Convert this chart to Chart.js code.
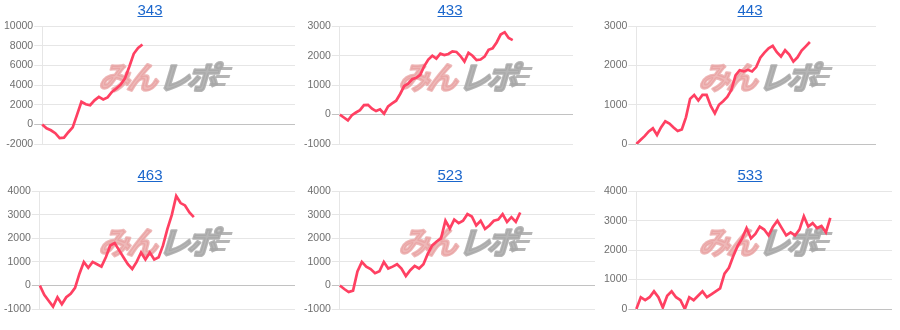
<!DOCTYPE html>
<html>
<head>
<meta charset="utf-8">
<script src="https://cdn.jsdelivr.net/npm/chart.js@4"></script>
<style>
    body { margin: 0; background: #fff; font-family: "Liberation Sans", Arial, sans-serif; }
    #grid { display: grid; grid-template-columns: 300px 300px 300px; width: 900px; }
    .cell { width: 300px; height: 165px; position: relative; }
    .title { position: absolute; top: 0; left: 0; width: 300px; height: 20px; line-height: 20px;
             text-align: center; font-size: 15px; z-index: 1; }
    .title a { color: #1a66cc; text-decoration: underline; }
    .canvas-box { position: absolute; top: 19px; left: 0; width: 300px; height: 140px; }
</style>
</head>
<body>
<div id="grid"></div>
<script>
// Machine numbers (chart titles)
const TITLES = ['343', '433', '443', '463', '523', '533'];

// Hidden x axis: one slot per sample (same length for every chart)
const X_SLOTS = Array.from({ length: 59 }, (_, i) => i);

// Series values
const DATA_343 = [0, -400, -600, -900, -1400, -1350, -800, -300, 1000, 2300, 2050, 1950,
    2450, 2800, 2550, 2750, 3300, 3650, 4050, 4700, 5900, 7200, 7800, 8150];
const DATA_433 = [0, -100, -200, -20, 70, 150, 320, 330, 200, 120, 180, 30, 280, 380, 470,
    700, 970, 1050, 1200, 1250, 1350, 1650, 1870, 2000, 1900, 2070, 2020, 2060, 2150, 2130,
    1990, 1800, 2100, 2000, 1850, 1870, 1970, 2200, 2250, 2450, 2720, 2800, 2600, 2530];
const DATA_443 = [0, 100, 200, 320, 400, 230, 430, 580, 520, 420, 330, 370, 680, 1150, 1250,
    1110, 1250, 1250, 970, 780, 1000, 1090, 1200, 1380, 1750, 1880, 1850, 1890, 1850, 1960,
    2200, 2330, 2440, 2500, 2340, 2230, 2390, 2280, 2100, 2210, 2380, 2490, 2600];
const DATA_463 = [0, -400, -650, -900, -500, -800, -500, -350, -100, 500, 1000, 750, 1000,
    900, 800, 1200, 1700, 1800, 1500, 1200, 900, 700, 1000, 1400, 1100, 1400, 1100, 1200,
    1700, 2400, 3000, 3800, 3500, 3400, 3100, 2900];
const DATA_523 = [0, -150, -280, -220, 600, 1000, 800, 700, 520, 600, 1000, 720, 800, 900,
    720, 400, 650, 830, 720, 900, 1350, 1700, 1870, 2000, 2750, 2420, 2800, 2650, 2750, 3030,
    2930, 2550, 2750, 2400, 2550, 2750, 2800, 3030, 2700, 2900, 2700, 3100];
const DATA_533 = [0, 400, 300, 400, 600, 400, 50, 450, 600, 400, 300, 0, 400, 300, 450, 600,
    400, 500, 600, 700, 1200, 1400, 1800, 2150, 2400, 2750, 2400, 2550, 2800, 2700, 2500,
    2800, 3000, 2750, 2500, 2600, 2500, 2700, 3150, 2800, 2920, 2750, 2820, 2600, 3100];

// Y axis ranges [min, max, step]
const Y_343 = [-2000, 10000, 2000];
const Y_433 = [-1000, 3000, 1000];
const Y_443 = [0, 3000, 1000];
const Y_463 = [-1000, 4000, 1000];
const Y_523 = [-1000, 4000, 1000];
const Y_533 = [0, 4000, 1000];

const SERIES = [DATA_343, DATA_433, DATA_443, DATA_463, DATA_523, DATA_533];
const RANGES = [Y_343, Y_433, Y_443, Y_463, Y_523, Y_533];
// Right-hand padding of each plot (the source charts are not all equally wide)
const PAD_RIGHT = [5, 27, 24, 5, 5, 8];

const LINE_COLOR = '#ff4062';
const CANVAS_TOP = 19;

// Draw text a bit heavier than the font's bold
function heavyText(ctx, text, x, y, color) {
    ctx.fillStyle = color;
    ctx.strokeStyle = color;
    ctx.lineWidth = 2.5;
    ctx.lineJoin = 'round';
    ctx.strokeText(text, x, y);
    ctx.fillText(text, x, y);
}

// "みんレポ" watermark behind the line (fixed spot in each cell)
const watermark = {
    id: 'watermark',
    beforeDatasetsDraw(chart) {
        const ctx = chart.ctx;
        ctx.save();
        ctx.translate(166, 76 - CANVAS_TOP);
        ctx.transform(1, 0, -0.3, 1, 0, 0);
        ctx.font = 'bold 31px "Noto Sans CJK JP"';
        ctx.textBaseline = 'middle';
        ctx.textAlign = 'left';
        const left = -64;
        ctx.letterSpacing = '-3px';
        heavyText(ctx, 'みん', left, 1, 'rgba(232, 160, 160, 0.75)');
        const w = ctx.measureText('みん').width;
        heavyText(ctx, 'レポ', left + w + 4, 1, 'rgba(168, 168, 168, 0.85)');
        // speed lines
        ctx.fillStyle = 'rgba(168, 168, 168, 0.85)';
        ctx.fillRect(left + w + 60, -9, 12, 3);
        ctx.fillRect(left + w + 58, -1, 14, 3);
        ctx.fillRect(left + w + 54, 7, 16, 3);
        ctx.restore();
    }
};

function createChart(index) {
    const cell = document.createElement('div');
    cell.className = 'cell';
    cell.innerHTML = `
        <div class="canvas-box"><canvas id="chart-${index}"></canvas></div>
        <div class="title"><a href="#">${TITLES[index]}</a></div>
    `;
    document.getElementById('grid').appendChild(cell);

    const [min, max, step] = RANGES[index];
    const ctx = document.getElementById(`chart-${index}`).getContext('2d');
    new Chart(ctx, {
        type: 'line',
        data: {
            labels: X_SLOTS,
            datasets: [{
                data: SERIES[index],
                borderColor: LINE_COLOR,
                borderWidth: 2.7,
                pointRadius: 0,
                tension: 0,
                fill: false
            }]
        },
        options: {
            responsive: true,
            maintainAspectRatio: false,
            animation: false,
            layout: {
                padding: { top: 0, right: PAD_RIGHT[index], bottom: 15, left: 3 }
            },
            plugins: {
                legend: { display: false },
                tooltip: { enabled: false }
            },
            scales: {
                x: { display: false },
                y: {
                    min: min,
                    max: max,
                    border: { display: true, color: '#e6e6e6' },
                    grid: {
                        drawTicks: true,
                        tickLength: 8,
                        color: c => (c.tick && c.tick.value === 0) ? '#c2c2c2' : '#e6e6e6'
                    },
                    ticks: {
                        stepSize: step,
                        padding: 1,
                        color: '#6f6f6f',
                        font: { family: '"Liberation Sans", Arial', size: 10.5 },
                        callback: value => String(value)
                    }
                }
            }
        },
        plugins: [watermark]
    });
}

for (let i = 0; i < TITLES.length; i++) {
    createChart(i);
}
</script>
</body>
</html>
